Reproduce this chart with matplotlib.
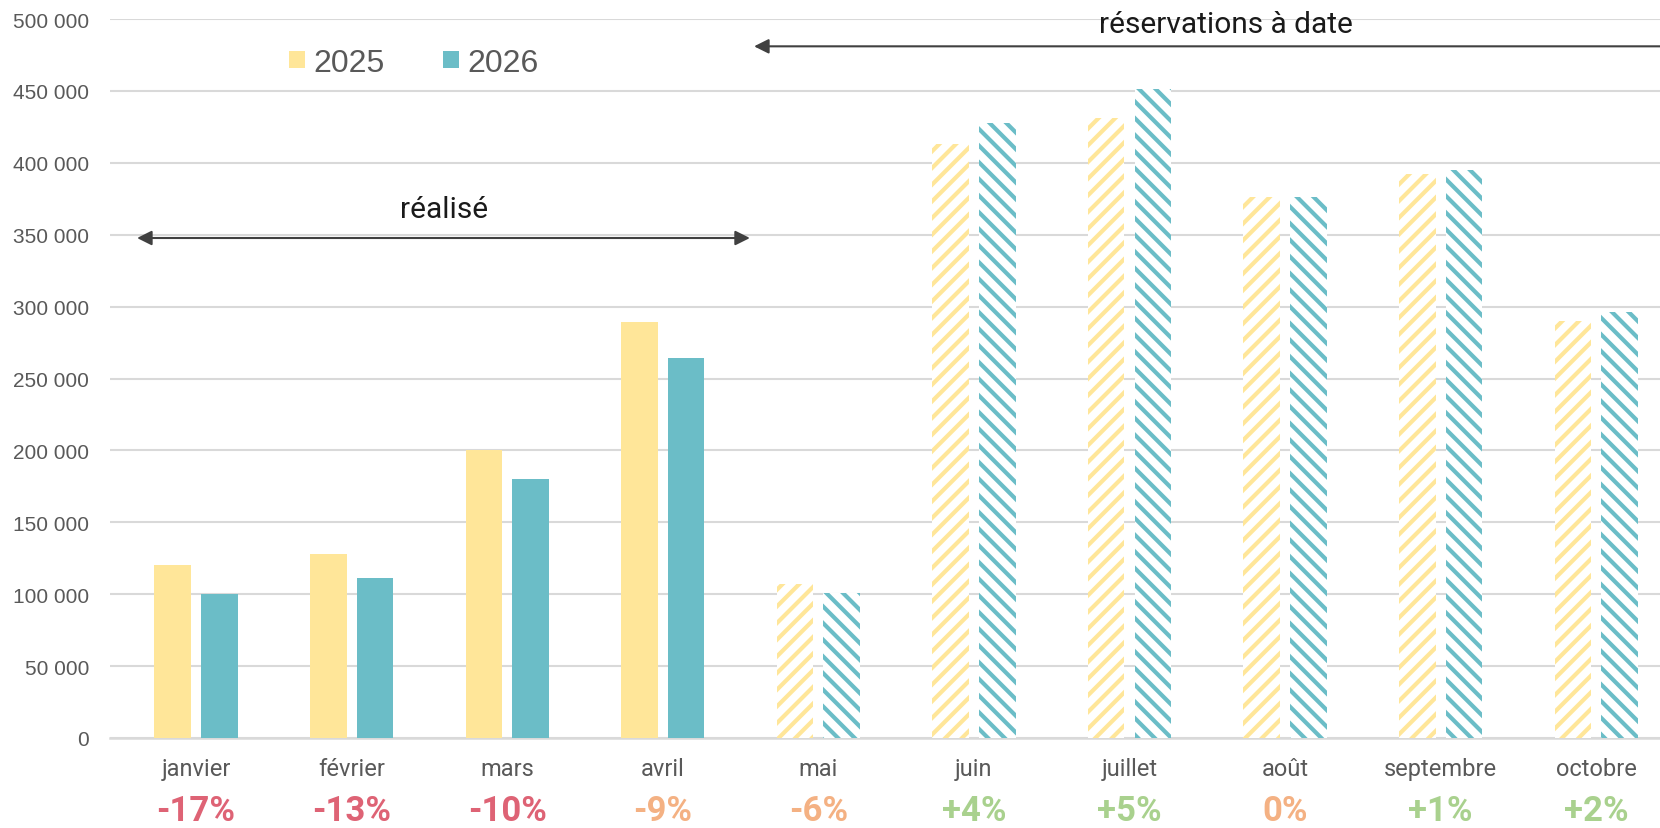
import numpy as np
import matplotlib
matplotlib.use('Agg')
import matplotlib.pyplot as plt
import matplotlib.transforms as mtransforms
from matplotlib.patches import Patch
from matplotlib.ticker import FuncFormatter

# donnees
mois = ['janvier', 'février', 'mars', 'avril', 'mai', 'juin', 'juillet', 'août', 'septembre', 'octobre']
v2025 = [120000, 128000, 200000, 289000, 107000, 413000, 431000, 376000, 392000, 290000]
v2026 = [100000, 111000, 180000, 264000, 101000, 428000, 451000, 376000, 395000, 296000]
evol = ['-17%', '-13%', '-10%', '-9%', '-6%', '+4%', '+5%', '0%', '+1%', '+2%']
evol_type = ['neg', 'neg', 'neg', 'mid', 'mid', 'pos', 'pos', 'mid', 'pos', 'pos']
realise = [True, True, True, True, False, False, False, False, False, False]

c25 = '#FFE699'
c26 = '#6BBDC7'
ccol = {'neg': '#DE6375', 'mid': '#F4B183', 'pos': '#A9D18E'}
gris = '#595959'
narrow = ['Roboto', 'DejaVu Sans']

plt.rcParams['font.family'] = ['Liberation Sans', 'DejaVu Sans']
plt.rcParams['hatch.linewidth'] = 3.0

fig = plt.figure(figsize=(16.6, 8.29), dpi=100)
ax = fig.add_axes([110/1660, 90/829, 1 - 110/1660, 719/829])

x = np.arange(len(mois))
w = 0.235
off = 0.15
for i in range(len(mois)):
    if realise[i]:
        ax.bar(x[i] - off, v2025[i], w, color=c25, linewidth=0, zorder=3)
        ax.bar(x[i] + off, v2026[i], w, color=c26, linewidth=0, zorder=3)
    else:
        ax.bar(x[i] - off, v2025[i], w, facecolor='white', edgecolor=c25,
               hatch='//', linewidth=0, zorder=3)
        ax.bar(x[i] + off, v2026[i], w, facecolor='white', edgecolor=c26,
               hatch='\\\\', linewidth=0, zorder=3)

ax.set_ylim(0, 500000)
ax.set_xlim(-0.553, 9.41)
ax.set_yticks(np.arange(0, 500001, 50000))
ax.yaxis.set_major_formatter(FuncFormatter(lambda v, p: '{:,.0f}'.format(v).replace(',', ' ')))
ax.tick_params(axis='y', length=0, pad=15, labelsize=15, labelcolor=gris)
ax.grid(axis='y', color='#D9D9D9', linewidth=1.5, zorder=0)
ax.set_axisbelow(True)
for s in ['top', 'right', 'left']:
    ax.spines[s].set_visible(False)
ax.spines['bottom'].set_color('#D9D9D9')
ax.spines['bottom'].set_linewidth(1.8)

ax.set_xticks(x)
ax.set_xticklabels([])
ax.tick_params(axis='x', length=0)
trans = mtransforms.blended_transform_factory(ax.transData, ax.transAxes)
for i in range(len(mois)):
    ax.text(x[i], -0.043, mois[i], transform=trans, ha='center', va='center',
            fontsize=17, color=gris, family=narrow)
    ax.text(x[i], -0.114, evol[i], transform=trans, ha='center', va='baseline',
            fontsize=25, fontweight='bold', color=ccol[evol_type[i]], family=narrow)

# fleches et annotations
ax.annotate('', xy=(-0.379, 347700), xytext=(3.56, 347700),
            arrowprops=dict(arrowstyle='<|-|>', color='#404040', lw=1.5, mutation_scale=22,
                            shrinkA=0, shrinkB=0))
ax.text(1.594, 368000, 'réalisé', ha='center', va='center', fontsize=21.5,
        color='#1A1A1A', family=narrow)
ax.annotate('', xy=(3.587, 481000), xytext=(9.6, 481000),
            arrowprops=dict(arrowstyle='-|>', color='#404040', lw=1.5, mutation_scale=22,
                            shrinkA=0, shrinkB=0), annotation_clip=False)
ax.text(6.62, 496500, 'réservations à date', ha='center', va='center', fontsize=21.5,
        color='#1A1A1A', family=narrow)

handles = [Patch(facecolor=c25, label='2025'), Patch(facecolor=c26, label='2026')]
fig.legend(handles=handles, loc='upper left', bbox_to_anchor=(273/1660, 1 - 33/829),
           ncol=2, frameon=False, fontsize=23, labelcolor=gris, borderpad=0,
           handlelength=0.5, handleheight=0.47, handletextpad=0.25, columnspacing=1.85)

fig.savefig('out.png', dpi=100)
